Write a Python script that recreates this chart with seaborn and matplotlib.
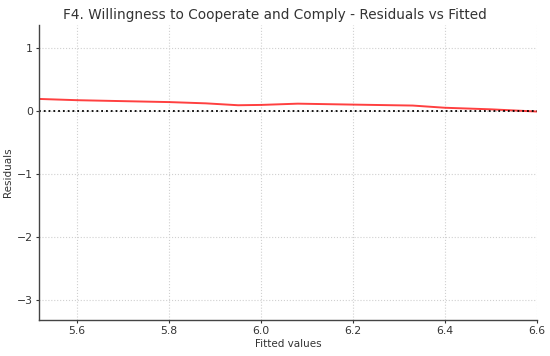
import numpy as np
import pandas as pd
import matplotlib
matplotlib.use("Agg")
import matplotlib.pyplot as plt
import seaborn as sns

# lowess curve
fitted = [5.517, 5.6, 5.7, 5.8, 5.88, 5.95, 6.0, 6.08, 6.2, 6.33, 6.4, 6.5, 6.6]
smoothed = [0.19, 0.17, 0.155, 0.14, 0.12, 0.09, 0.095, 0.115, 0.10, 0.085, 0.05, 0.025, -0.01]

sns.set_theme(style="whitegrid")
plt.rcParams.update({
    "font.family": ["DejaVu Sans"],
    "grid.linestyle": ":",
    "grid.color": "#d0d0d0",
    "grid.linewidth": 0.8,
})

df = pd.DataFrame({"Fitted values": fitted, "Residuals": smoothed})

fig, ax = plt.subplots(figsize=(5.5, 3.56), dpi=100)
sns.lineplot(data=df, x="Fitted values", y="Residuals", color="red", lw=1.4, alpha=0.75, ax=ax)
ax.axhline(0, color="black", linestyle=":", lw=1.3)

ax.set_xlim(5.517, 6.6)
ax.set_ylim(-3.32, 1.365)
ax.set_xticks([5.6, 5.8, 6.0, 6.2, 6.4, 6.6])
ax.set_yticks([1, 0, -1, -2, -3])
# title sits centred on the figure rather than the axes
fig.suptitle("F4. Willingness to Cooperate and Comply - Residuals vs Fitted",
             fontsize=9.8, color="#333333", x=0.5, y=0.978, va="top")
ax.set_xlabel("Fitted values", fontsize=7.5, color="#333333", labelpad=2)
ax.set_ylabel("Residuals", fontsize=7.5, color="#333333", labelpad=3)
ax.tick_params(axis="both", labelsize=7.8, colors="#333333", length=2.5, width=0.8, pad=2,
               direction="out", left=True, bottom=True)
for side in ["top", "right"]:
    ax.spines[side].set_visible(False)
for side in ["left", "bottom"]:
    ax.spines[side].set_color("#444444")
    ax.spines[side].set_linewidth(1.0)

fig.subplots_adjust(left=0.071, right=0.976, bottom=0.101, top=0.93)
fig.savefig("out.png", dpi=100)
